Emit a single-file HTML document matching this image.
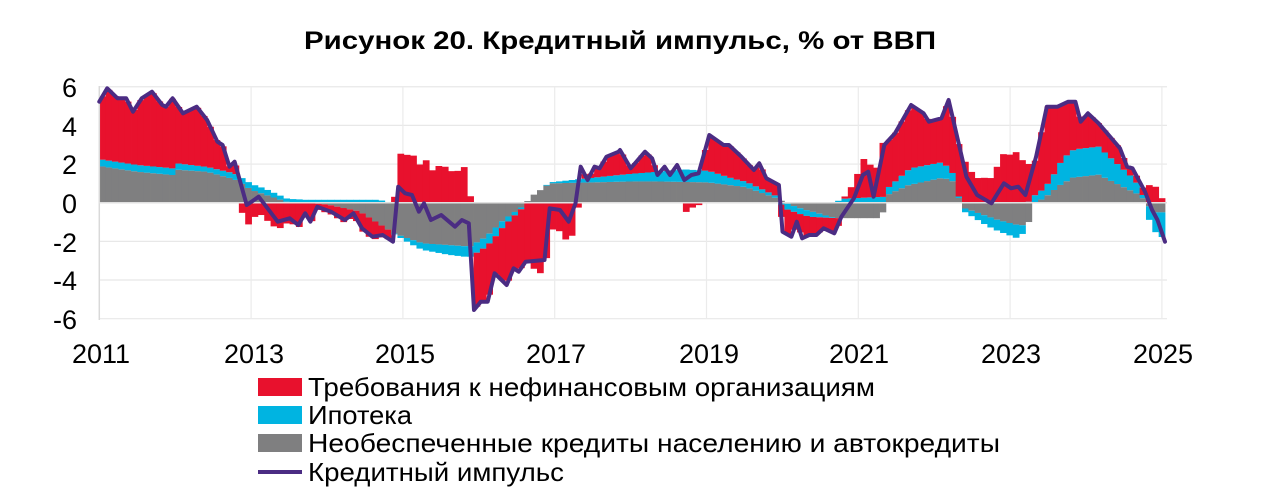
<!DOCTYPE html>
<html><head><meta charset="utf-8"><style>
html,body{margin:0;padding:0;background:#fff;}
svg{display:block;}
text{font-family:"Liberation Sans",sans-serif;fill:#000;}
</style></head><body>
<svg id="s" width="1280" height="498" viewBox="0 0 1280 498" xmlns="http://www.w3.org/2000/svg">
<text x="620" y="49" text-anchor="middle" font-size="25" font-weight="bold" textLength="632" lengthAdjust="spacingAndGlyphs">Рисунок 20. Кредитный импульс, % от ВВП</text>
<g id="grid"></g>
<g id="bars"></g>
<g id="ax"></g>
<g font-size="27">
<text x="77" y="97" text-anchor="end">6</text>
<text x="77" y="136" text-anchor="end">4</text>
<text x="77" y="174" text-anchor="end">2</text>
<text x="77" y="213" text-anchor="end">0</text>
<text x="77" y="252" text-anchor="end">-2</text>
<text x="77" y="290" text-anchor="end">-4</text>
<text x="77" y="329" text-anchor="end">-6</text>
<text x="101" y="363" text-anchor="middle">2011</text>
<text x="254" y="363" text-anchor="middle">2013</text>
<text x="405" y="363" text-anchor="middle">2015</text>
<text x="556" y="363" text-anchor="middle">2017</text>
<text x="709" y="363" text-anchor="middle">2019</text>
<text x="859" y="363" text-anchor="middle">2021</text>
<text x="1011" y="363" text-anchor="middle">2023</text>
<text x="1163" y="363" text-anchor="middle">2025</text>
</g>
<rect x="258" y="378" width="44" height="18" fill="#E8112D"/>
<rect x="258" y="406" width="44" height="18" fill="#00B4E1"/>
<rect x="258" y="434" width="44" height="18" fill="#7F7F80"/>
<line x1="258" y1="472" x2="302" y2="472" stroke="#4B2C83" stroke-width="4"/>
<g font-size="26">
<text x="308" y="396" textLength="567" lengthAdjust="spacingAndGlyphs">Требования к нефинансовым организациям</text>
<text x="308" y="424" textLength="104" lengthAdjust="spacingAndGlyphs">Ипотека</text>
<text x="308" y="452" textLength="692" lengthAdjust="spacingAndGlyphs">Необеспеченные кредиты населению и автокредиты</text>
<text x="308" y="481" textLength="256" lengthAdjust="spacingAndGlyphs">Кредитный импульс</text>
</g>
</svg>
<script>
(function(){
var NS="http://www.w3.org/2000/svg";
function el(p,t,a){var e=document.createElementNS(NS,t);for(var k in a)e.setAttribute(k,a[k]);p.appendChild(e);return e;}
var Y0=202.7,U=19.33,X0=99.3,X1=1165,N=168,W=(X1-X0)/N;
function yv(v){return Y0-v*U;}
var grid=document.getElementById('grid');
[6,4,2,-2,-4,-6].forEach(function(v){el(grid,'line',{x1:99,x2:1167,y1:yv(v),y2:yv(v),stroke:'#E8E8E8','stroke-width':1.2});});
for(var k=1;k<8;k++){var gx=99.3+k*151.8;el(grid,'line',{x1:gx,x2:gx,y1:86,y2:319,stroke:'#EBEBEB','stroke-width':1.2});}
var z1=[[25,65],[50,25],[80,55],[105,55],[125,95],[150,55],[180,35],[210,75],[220,80],[240,55],[270,100],[310,80],[340,120],[370,185],[385,195],[405,260],[420,245],[455,375],[490,350],[545,425],[580,415],[605,435],[625,400],[640,425],[660,380],[700,395],[740,420],[765,400],[790,445],[820,470],[850,465],[880,485],[895,320],[915,340],[935,345],[955,395],[970,370],[990,420],[1020,405],[1060,440],[1080,420],[1100,430],[1115,690],[1135,665],[1155,665],[1175,580],[1210,615],[1230,565],[1245,575],[1265,545],[1320,540],[1335,385],[1365,390],[1390,425],[1410,370],[1425,260],[1445,300],[1465,260],[1480,265],[1500,230],[1535,215]];
var z2=[[0,210],[30,265],[70,215],[90,235],[105,285],[125,260],[140,285],[160,255],[180,300],[200,285],[220,280],[250,165],[290,195],[305,195],[340,230],[375,270],[390,250],[410,295],[445,315],[455,455],[480,470],[495,425],[510,475],[530,465],[550,465],[570,445],[600,460],[620,410],[655,355],[680,285],[695,275],[710,350],[740,195],[770,160],[815,75],[850,100],[865,125],[900,115],[920,60],[945,175],[970,290],[1000,345],[1040,370],[1075,310],[1095,325],[1115,320],[1135,345],[1165,230],[1195,80],[1225,80],[1255,65],[1275,65],[1290,125],[1310,100],[1340,130],[1400,205],[1420,260],[1435,265],[1470,335],[1490,390],[1505,420],[1520,485]];
var P=[];
z1.forEach(function(p){P.push([90+p[0]/2.904,80+p[1]/3]);});
z2.forEach(function(p){P.push([620+p[0]/2.8,80+p[1]/3]);});
P[0][0]=99.3;P[P.length-1][0]=1165;
function Lx(x){if(x<=P[0][0])return (Y0-P[0][1])/U;for(var i=1;i<P.length;i++){if(P[i][0]>=x){var a=P[i-1],b=P[i],t=(x-a[0])/((b[0]-a[0])||1);return (Y0-(a[1]+t*(b[1]-a[1])))/U;}}return (Y0-P[P.length-1][1])/U;}
function interp(K,m){if(m<=K[0][0])return K[0][1];for(var i=1;i<K.length;i++){if(K[i][0]>=m){var a=K[i-1],b=K[i];return a[1]+(m-a[0])/(b[0]-a[0])*(b[1]-a[1]);}}return K[K.length-1][1];}
var G=[[0,1.9],[6,1.6],[11.6,1.43],[12.5,1.7],[17,1.6],[21.4,1.2],[24,0.66],[26.3,0.4],[29.5,0.05],[33,0],[36,-0.1],[41,-0.45],[46.5,-1.6],[50.9,-2.1],[58.4,-2.27],[61,-1.76],[63.7,-0.9],[67,-0.13],[68,0.3],[71,1.0],[84,1.1],[88,1.1],[96,1.05],[102,0.8],[107,0.2],[108,0],[110.6,-0.3],[116,-0.8],[122.7,-0.8],[123.5,-0.5],[124.2,0.4],[127.5,0.9],[133,1.3],[134.6,1.1],[135.4,0.3],[136.5,-0.3],[141.7,-0.9],[145.3,-1.2],[146.5,-1.0],[147.2,0],[148.8,0.2],[151.4,0.9],[153.5,1.3],[157.5,1.45],[160.9,0.9],[164,0.4],[165.2,0],[166,-0.5],[168,-0.5]];
var C=[[0,0.35],[11,0.35],[17,0.25],[21,0.3],[26,0.3],[30,0.15],[44,0.15],[46,0],[50,-0.3],[55,-0.5],[58,-0.55],[62,-0.5],[64,-0.3],[67,-0.05],[71,0.05],[80,0.3],[88,0.5],[92,0.65],[96,0.6],[100,0.35],[107,0.1],[108,-0.3],[112,-0.3],[116,0],[117,0.2],[123,0.3],[124,0.3],[128,0.85],[133,0.8],[135,0.3],[136,-0.15],[140,-0.5],[145,-0.7],[147,0.3],[148,0.4],[150,0.65],[152,1.3],[154,1.45],[157.5,1.45],[160,1.1],[163,0.7],[164.4,0.3],[165,-0.5],[166,-0.9],[168,-1.4]];
var bars=document.getElementById('bars');
for(var m=0;m<N;m++){
 var bx=X0+m*W,cx=bx+W/2,mm=m+0.5;
 var g=interp(G,mm),c=interp(C,mm),L=Lx(cx),r=L-g-c;
 var pos=0,neg=0;
 [[g,'#7F7F80'],[c,'#00B4E1'],[r,'#E8112D']].forEach(function(s){
  var v=s[0];if(Math.abs(v)<0.02)return;
  var y1,y2;
  if(v>0){y1=yv(pos+v);y2=yv(pos);pos+=v;}else{y1=yv(neg);y2=yv(neg+v);neg+=v;}
  el(bars,'rect',{x:bx.toFixed(2),y:y1.toFixed(2),width:(W+0.4).toFixed(2),height:(y2-y1).toFixed(2),fill:s[1]});
 });
}
var ax=document.getElementById('ax');
el(ax,'line',{x1:99.3,x2:99.3,y1:86,y2:320,stroke:'#D9D9D9','stroke-width':1.5});
el(ax,'line',{x1:99,x2:1167,y1:Y0,y2:Y0,stroke:'#E0E0E0','stroke-width':1.5});
el(ax,'polyline',{points:P.map(function(p){return p[0].toFixed(1)+','+p[1].toFixed(1);}).join(' '),fill:'none',stroke:'#4B2C83','stroke-width':4,'stroke-linejoin':'round','stroke-linecap':'round'});
})();
</script>
</body></html>
